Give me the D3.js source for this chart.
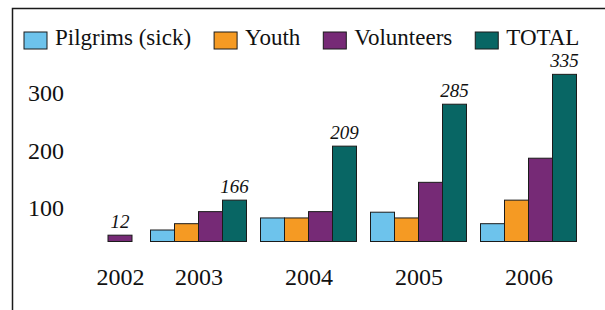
<!DOCTYPE html>
<html>
<head>
<meta charset="utf-8">
<script src="https://cdn.jsdelivr.net/npm/d3@7"></script>
<style>
  body { margin: 0; background: #fff; }
  svg text { font-family: "Liberation Serif", "DejaVu Serif", serif; fill: #111; }
</style>
</head>
<body>
<div id="chart"></div>
<script>
(function () {

  const years = [2002, 2003, 2004, 2005, 2006]
  const series = ['Pilgrims (sick)', 'Youth', 'Volunteers', 'TOTAL']

  // bar heights as drawn, null = no bar
  const pilgrims   = [null, 62, 83, 93, 73]
  const youth      = [null, 73, 83, 83, 114]
  const volunteers = [53, 94, 94, 145, 187]
  const total      = [null, 114, 208, 281, 333]

  // the numbers printed above the bars
  const labelValues = [12, 166, 209, 285, 335]

  const yTicks = [100, 200, 300]

  const width = 605
  const height = 310

  const svg = d3.select("#chart").append("svg")
      .attr("width", width)
      .attr("height", height)

  const colorScale = d3.scaleOrdinal()
    .domain(series)
    .range(['#6dc3ec', '#f59a23', '#762a76', '#086664'])

  // group centres, 2002 sits closer to 2003 than the rest
  const xPositionScale = d3.scaleLinear()
    .domain([2002, 2003, 2006])
    .range([120, 198.5, 528.5])

  // the bottom of the bars is not zero in the picture
  const yPositionScale = d3.scaleLinear()
    .domain([42, 300])
    .range([241.5, 93.3])

  const barWidth = 24

  // frame, top and left only
  svg.append("path")
    .attr("d", "M12.5," + height + "V8.5H" + width)
    .attr("fill", "none")
    .attr("stroke", "#1a1a1a")
    .attr("stroke-width", 1.5)

  const rows = years.map((year, i) => {
    const vals = [pilgrims[i], youth[i], volunteers[i], total[i]]
    const bars = series
      .map((name, j) => ({ name: name, value: vals[j] }))
      .filter(d => d.value !== null)
    return { year: year, bars: bars, label: labelValues[i] }
  })

  const groups = svg.selectAll(".year")
    .data(rows)
    .join("g")
    .attr("class", "year")

  groups.each(function (row) {
    const c = xPositionScale(row.year)
    const n = row.bars.length
    const inner = d3.scaleBand()
      .domain(row.bars.map(d => d.name))
      .range([c - n * barWidth / 2, c + n * barWidth / 2])

    const g = d3.select(this)

    g.selectAll("rect")
      .data(row.bars)
      .join("rect")
      .attr("x", d => inner(d.name))
      .attr("y", d => yPositionScale(d.value))
      .attr("width", inner.bandwidth())
      .attr("height", d => yPositionScale(42) - yPositionScale(d.value))
      .attr("fill", d => colorScale(d.name))
      .attr("stroke", "#1b1b1b")
      .attr("stroke-width", 1)

    // label goes over the last (tallest) bar
    const last = row.bars[row.bars.length - 1]
    g.append("text")
      .attr("x", inner(last.name) + inner.bandwidth() / 2)
      .attr("y", yPositionScale(last.value) - 7)
      .attr("text-anchor", "middle")
      .attr("font-size", 19)
      .attr("font-style", "italic")
      .text(row.label)
  })

  // y labels, no axis line
  const yAxis = d3.axisLeft(yPositionScale)
    .tickValues(yTicks)
    .tickSize(0)
    .tickPadding(0)
  svg.append("g")
    .attr("class", "axis y-axis")
    .attr("transform", "translate(64,0)")
    .call(yAxis)
    .call(g => g.select(".domain").remove())
    .selectAll("text")
    .attr("font-size", 24)
    .attr("font-family", null)

  const xAxis = d3.axisBottom(xPositionScale)
    .tickValues(years)
    .tickFormat(d3.format("d"))
    .tickSize(0)
    .tickPadding(0)
  svg.append("g")
    .attr("class", "axis x-axis")
    .attr("transform", "translate(0,268)")
    .call(xAxis)
    .call(g => g.select(".domain").remove())
    .selectAll("text")
    .attr("font-size", 24)
    .attr("font-family", null)

  // legend, laid out left to right
  const legend = svg.append("g")
    .attr("transform", "translate(24,31)")

  let xPos = 0
  series.forEach(name => {
    const item = legend.append("g")
      .attr("transform", "translate(" + xPos + ",0)")
    item.append("rect")
      .attr("y", 1)
      .attr("width", 23)
      .attr("height", 17)
      .attr("fill", colorScale(name))
      .attr("stroke", "#1b1b1b")
      .attr("stroke-width", 1)
    const label = item.append("text")
      .attr("x", 31)
      .attr("y", 14)
      .attr("font-size", 23)
      .text(name)
    xPos += 31 + label.node().getComputedTextLength() + 23
  })

})();
</script>
</body>
</html>
